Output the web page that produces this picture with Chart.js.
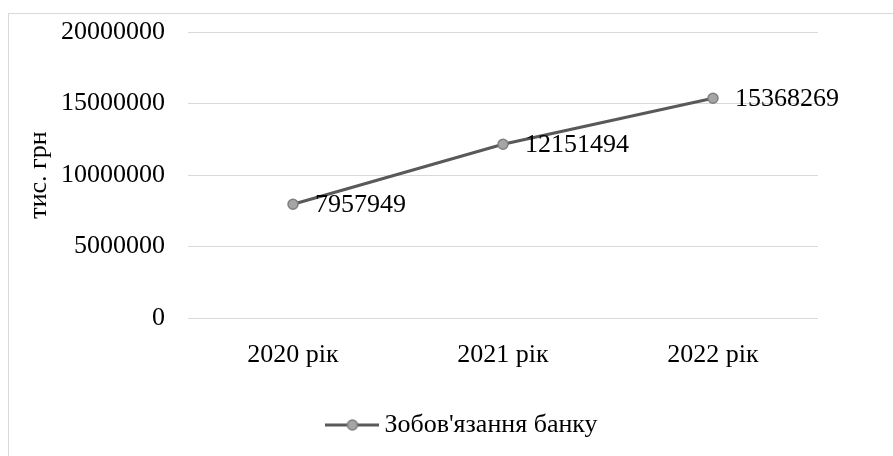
<!DOCTYPE html>
<html lang="uk">
<head>
  <meta charset="UTF-8">
  <title>Зобов'язання банку</title>
  <script src="https://cdn.jsdelivr.net/npm/chart.js"></script>
  <style>
    html, body { margin: 0; padding: 0; overflow: hidden; background: #fff; }
    #wrap { position: relative; width: 931px; height: 456px; }
  </style>
</head>
<body>
  <div id="wrap"><canvas id="lineChart"></canvas></div>

  <script>
    const years = ['2020 рік', '2021 рік', '2022 рік'];
    const liabilities = [7957949, 12151494, 15368269];
    const seriesName = "Зобов'язання банку";
    const yAxisTitle = 'тис. грн';

    const FONT = 'Liberation Serif, Times New Roman, serif';
    const LINE = '#595959';
    const MARK_FILL = '#a5a5a5';
    const MARK_EDGE = '#7f7f7f';

    // legend icon: short line with a marker in the middle
    const icon = document.createElement('canvas');
    icon.width = 54; icon.height = 14;
    const ic = icon.getContext('2d');
    ic.strokeStyle = LINE; ic.lineWidth = 3;
    ic.beginPath(); ic.moveTo(0, 7); ic.lineTo(54, 7); ic.stroke();
    ic.fillStyle = MARK_FILL; ic.strokeStyle = MARK_EDGE; ic.lineWidth = 1.5;
    ic.beginPath(); ic.arc(27, 7, 5, 0, Math.PI * 2); ic.fill(); ic.stroke();

    // outer frame of the chart
    const frame = {
      id: 'frame',
      beforeDraw(chart) {
        const c = chart.ctx;
        c.save();
        c.strokeStyle = '#d9d9d9';
        c.lineWidth = 1;
        c.strokeRect(8.5, 13.5, chart.width - 17, chart.height);
        c.restore();
      }
    };

    // values written to the right of each point
    const valueLabels = {
      id: 'valueLabels',
      afterDatasetsDraw(chart) {
        const c = chart.ctx;
        const meta = chart.getDatasetMeta(0);
        c.save();
        c.font = '26px ' + FONT;
        c.fillStyle = '#000';
        c.textAlign = 'left';
        c.textBaseline = 'middle';
        meta.data.forEach((pt, i) => {
          c.fillText(String(liabilities[i]), pt.x + 22, pt.y + 1);
        });
        c.restore();
      }
    };

    const ctx = document.getElementById('lineChart').getContext('2d');
    new Chart(ctx, {
      type: 'line',
      data: {
        labels: years,
        datasets: [{
          label: seriesName,
          data: liabilities,
          borderColor: LINE,
          borderWidth: 3,
          pointRadius: 5,
          pointBackgroundColor: MARK_FILL,
          pointBorderColor: MARK_EDGE,
          pointBorderWidth: 1.5,
          pointStyle: 'circle',
          tension: 0
        }]
      },
      options: {
        responsive: true,
        maintainAspectRatio: false,
        animation: false,
        events: [],
        layout: { padding: { left: 0, right: 0, top: 32, bottom: 8 } },
        plugins: {
          tooltip: { enabled: false },
          legend: {
            position: 'bottom',
            labels: {
              usePointStyle: true,
              pointStyle: icon,
              pointStyleWidth: 38,
              color: '#000',
              font: { family: FONT, size: 26 },
              generateLabels: () => [{
                text: seriesName,
                pointStyle: icon,
                fillStyle: MARK_FILL,
                strokeStyle: LINE,
                lineWidth: 0,
                datasetIndex: 0,
                fontColor: '#000'
              }]
            }
          }
        },
        scales: {
          x: {
            offset: true,
            grid: { display: false, drawTicks: false },
            border: { display: false },
            ticks: { color: '#000', font: { family: FONT, size: 26 }, padding: 22, maxRotation: 0 },
            afterFit: (s) => { s.height = 84; }
          },
          y: {
            min: 0,
            max: 20000000,
            grid: { color: '#d9d9d9', lineWidth: 1, drawTicks: false },
            border: { display: false },
            ticks: {
              stepSize: 5000000,
              color: '#000',
              font: { family: FONT, size: 26 },
              padding: 23,
              callback: (v) => String(v)
            },
            title: {
              display: true,
              text: yAxisTitle,
              color: '#000',
              font: { family: FONT, size: 26 },
              padding: { top: 24, bottom: 0 }
            },
            afterFit: (s) => { s.width = 188; s.paddingTop = 0; s.paddingBottom = 0; }
          },
          // empty right-hand spacer so the plot ends where the original does
          spacer: {
            type: 'linear',
            position: 'right',
            grid: { display: false, drawTicks: false },
            border: { display: false },
            ticks: { display: false },
            afterFit: (s) => { s.width = 113; s.paddingTop = 0; s.paddingBottom = 0; }
          }
        }
      },
      plugins: [frame, valueLabels]
    });
  </script>
</body>
</html>
